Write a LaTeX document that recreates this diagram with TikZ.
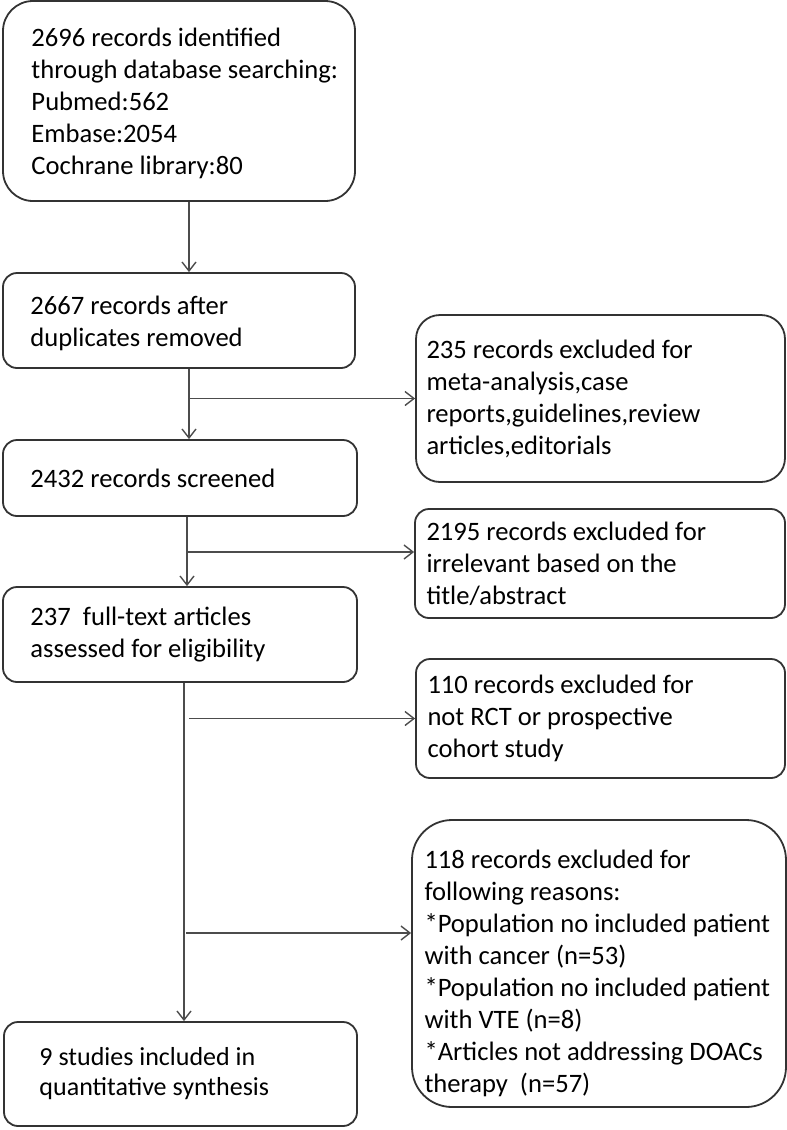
\documentclass[tikz,border=0pt]{standalone}
\usepackage{fontspec}
\setmainfont{Carlito}
\usetikzlibrary{arrows.meta}

\begin{document}
\begin{tikzpicture}[x=0.5pt,y=-0.5pt,>={Straight Barb[length=4.5pt,width=7pt]},
    stage/.style={draw=black!80,line width=0.9pt,rounded corners=7pt,inner sep=0pt},
    txt/.style={anchor=west,align=left,inner sep=0pt,font=\fontsize{13.3}{16}\selectfont},
    flow/.style={->,draw=black!70,line width=0.7pt}]
  \useasboundingbox (0,0) rectangle (787,1130);

  % left column
  \node[stage,rounded corners=15pt,minimum width=176pt,minimum height=100pt] (src) at (179,101) {};
  \node[stage,minimum width=176pt,minimum height=47.5pt] (dup) at (179,320.5) {};
  \node[stage,minimum width=177pt,minimum height=38pt] (scr) at (180,478) {};
  \node[stage,minimum width=177pt,minimum height=47.5pt] (full) at (180,634.5) {};
  \node[stage,minimum width=176.5pt,minimum height=52pt] (incl) at (180.5,1074) {};

  % right column
  \node[stage,rounded corners=12pt,minimum width=184.5pt,minimum height=83.5pt] (exc1) at (600.5,398.5) {};
  \node[stage,minimum width=185pt,minimum height=54.5pt] (exc2) at (600,563.5) {};
  \node[stage,minimum width=184.5pt,minimum height=59.5pt] (exc3) at (600.5,718.5) {};
  \node[stage,rounded corners=20pt,minimum width=187pt,minimum height=143.5pt] (exc4) at (599,963.5) {};

  % texts
  \node[txt] (src-t) at ([xshift=14.5pt,yshift=-1pt]src.west)
    {2696 records identified\\through database searching:\\Pubmed:562\\Embase:2054\\Cochrane library:80};
  \node[txt] (dup-t) at ([xshift=14pt,yshift=-1.5pt]dup.west) {2667 records after\\duplicates removed};
  \node[txt] (scr-t) at ([xshift=14pt]scr.west) {2432 records screened};
  \node[txt] (full-t) at ([xshift=14pt]full.west) {237~ full-text articles\\assessed for eligibility};
  \node[txt,font=\fontsize{13}{15}\selectfont] (incl-t) at ([xshift=18pt]incl.west)
    {9 studies included in\\quantitative synthesis};
  \node[txt] (exc1-t) at ([xshift=5.5pt]exc1.west)
    {235 records excluded for\\meta-analysis,case\\reports,guidelines,review\\articles,editorials};
  \node[txt] (exc2-t) at ([xshift=6pt]exc2.west)
    {2195 records excluded for\\irrelevant based on the\\title/abstract};
  \node[txt] (exc3-t) at ([xshift=6pt]exc3.west)
    {110 records excluded for\\not RCT or prospective\\cohort study};
  \node[txt] (exc4-t) at ([xshift=6.5pt,yshift=-5pt]exc4.west)
    {118 records excluded for\\following reasons:\\{*}Population no included patient\\with cancer (n=53)\\{*}Population no included patient\\with VTE (n=8)\\{*}Articles not addressing DOACs\\therapy~ (n=57)};

  % connectors
  \coordinate (t1) at ([xshift=5pt]dup.south);
  \coordinate (t2) at ([xshift=3.5pt]scr.south);
  \coordinate (t3) at ([xshift=2pt]full.south);

  \draw[flow] ([xshift=5pt]src.south) -- ([xshift=5pt]src.south |- dup.north);
  \draw[flow] (t1) -- (t1 |- scr.north);
  \draw[flow] (t1 |- exc1.west) -- (exc1.west);
  \draw[flow] (t2) -- (t2 |- full.north);
  \draw[flow] (t2 |- 0,552) -- (exc2.west |- 0,552);
  \draw[flow] (t3) -- (t3 |- incl.north);
  \draw[flow] ([xshift=2.5pt]t3 |- exc3.west) -- (exc3.west);
  \draw[flow] ([xshift=1pt]t3 |- 0,933) -- (exc4.west |- 0,933);
\end{tikzpicture}
\end{document}
